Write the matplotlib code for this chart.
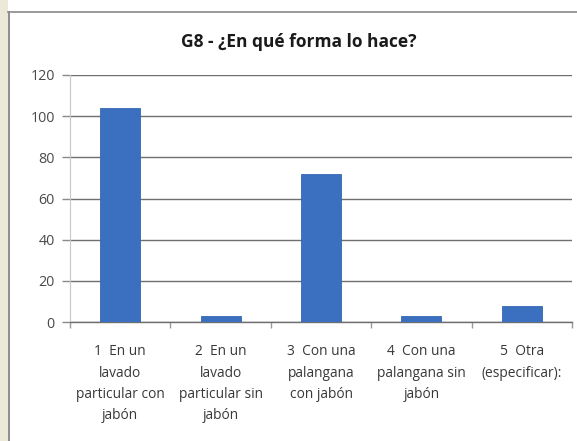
import matplotlib
matplotlib.use("Agg")
import matplotlib.pyplot as plt
from matplotlib.patches import Rectangle
from matplotlib.lines import Line2D

# Survey answers for question G8
categories = [
    "1  En un\nlavado\nparticular con\njabón",
    "2  En un\nlavado\nparticular sin\njabón",
    "3  Con una\npalangana\ncon jabón",
    "4  Con una\npalangana sin\njabón",
    "5  Otra\n(especificar):",
]
counts = [104, 3, 72, 3, 8]
y_ticks = [0, 20, 40, 60, 80, 100, 120]
title = "G8 - ¿En qué forma lo hace?"

W, H = 577, 441
fig = plt.figure(figsize=(W / 100, H / 100), dpi=100)
fig.patch.set_facecolor("white")
FONT = ["Open Sans", "DejaVu Sans"]

def px(x0, y0, x1, y1):
    """Figure-fraction rectangle from pixel coords (top-left origin)."""
    return [x0 / W, 1 - y1 / H, (x1 - x0) / W, (y1 - y0) / H]

# window frame: beige strip on the left and a thin border around the chart
fig.patches.append(Rectangle((0, 0), 8 / W, 1, transform=fig.transFigure,
                             facecolor="#ece9d8", edgecolor="none", zorder=0))
fig.lines.append(Line2D([8.5 / W, 8.5 / W], [0, 1 - 12 / H], transform=fig.transFigure,
                        color="#7a7a7a", lw=1.2))
fig.lines.append(Line2D([8 / W, 1], [1 - 12 / H, 1 - 12 / H], transform=fig.transFigure,
                        color="#8a8a8a", lw=1.2))

ax = fig.add_axes(px(70, 75, 572, 322))
x = list(range(len(counts)))
ax.bar(x, counts, width=0.4, color="#3b70c1", edgecolor="#3566b0", linewidth=0.6, zorder=3)

ax.set_xlim(-0.5, len(counts) - 0.5)
ax.set_ylim(0, 120)
ax.set_yticks(y_ticks)
ax.set_yticklabels([str(v) for v in y_ticks], fontsize=10.3, color="#4a4a4a", family=FONT)
ax.yaxis.grid(True, color="#6f6f6f", linewidth=1.0, zorder=1)
ax.tick_params(axis="y", length=6, width=1, color="#8a8a8a", pad=5)

ax.set_xticks(x)
ax.set_xticklabels(categories, fontsize=9.9, color="#383838", linespacing=1.58, family=FONT)
ax.tick_params(axis="x", which="major", length=0, pad=16)
ax.set_xticks([i - 0.5 for i in range(len(counts) + 1)], minor=True)
ax.tick_params(axis="x", which="minor", length=4, width=1, color="#9a9a9a")

for side in ("top", "right"):
    ax.spines[side].set_visible(False)
ax.spines["left"].set_color("#c8c8c8")
ax.spines["bottom"].set_color("#6f6f6f")
ax.spines["bottom"].set_linewidth(1.0)
ax.set_axisbelow(True)

fig.text(298.5 / W, 1 - 47 / H, title, ha="center", va="baseline", fontsize=12.5,
         fontweight="bold", color="#1a1a1a", family=FONT)

fig.savefig("out.png", dpi=100)
